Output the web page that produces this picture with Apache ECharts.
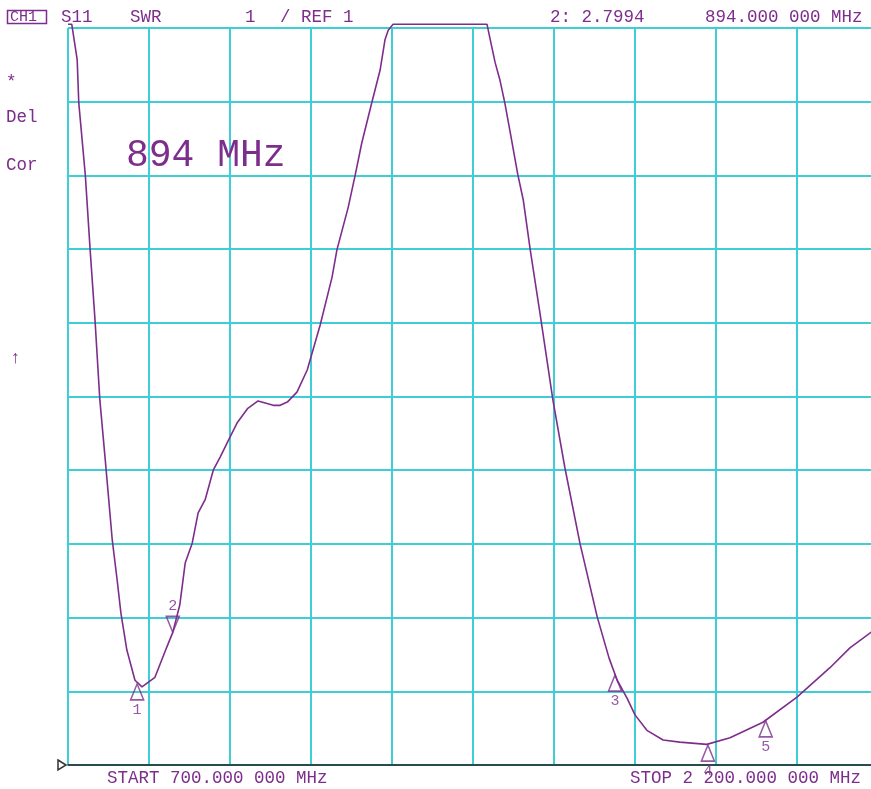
<!DOCTYPE html>
<html>
<head>
<meta charset="utf-8">
<script src="https://cdn.jsdelivr.net/npm/echarts@6/dist/echarts.min.js"></script>
<style>
html,body{margin:0;padding:0;background:#fff;}
#chart{width:871px;height:789px;}
</style>
</head>
<body>
<div id="chart"></div>
<script>
// Frequency (MHz) and SWR of the S11 trace
const freq = [700,707,717,720,732,741,750,759,769,782,791,798,809,824,837,861,883,894,907,917,930,941,954,969,982,1000,1013,1033,1052,1080,1093,1107,1124,1143,1167,1189,1198,1219,1232,1244,1263,1278,1287,1293,1302,1476,1482,1491,1500,1509,1519,1533,1543,1556,1574,1598,1620,1648,1680,1702,1717,1735,1750,1772,1802,1833,1883,1926,1987,2050,2111,2148,2187,2200];
const swr = [11.05,11.05,10.57,9.98,9.01,7.99,7.04,5.95,5.14,4.05,3.51,3.06,2.56,2.15,2.06,2.19,2.60,2.80,3.17,3.74,4.01,4.42,4.60,5.00,5.18,5.45,5.64,5.84,5.94,5.88,5.88,5.93,6.06,6.36,6.97,7.62,7.99,8.57,9.01,9.44,10.00,10.43,10.84,10.97,11.05,11.05,10.84,10.53,10.29,9.98,9.58,9.01,8.67,7.99,7.13,5.95,5.04,4.01,3.01,2.45,2.15,1.91,1.68,1.47,1.34,1.31,1.28,1.37,1.58,1.92,2.32,2.59,2.80,2.89];

// Markers
const markerFreq = [828, 894, 1713, 1885, 1992];
const markerSwr = [2.10, 2.80, 2.22, 1.27, 1.60];
const markerInverted = [false, true, false, false, false];

// Axis ranges
const freqStart = 700, freqStop = 2200;
const swrMin = 1, swrMax = 11, swrPerDiv = 1;
const xDivs = 10;

const purple = '#7d2e8c';
const cyan = '#3ecfd6';
const mono = '"Liberation Mono", "DejaVu Sans Mono", monospace';

const chart = echarts.init(document.getElementById('chart'), null, {renderer: 'canvas'});

const traceData = freq.map((f, i) => [f, swr[i]]);
const upPath = 'path://M0,14 L12,14 L6,0 Z';
const downPath = 'path://M0,0 L12,0 L6,14 Z';
const markerData = markerFreq.map((f, i) => ({
  value: [f, markerSwr[i]],
  symbol: markerInverted[i] ? downPath : upPath,
  symbolOffset: [0, markerInverted[i] ? '-50%' : '50%'],
  label: {position: markerInverted[i] ? 'top' : 'bottom', distance: 2}
}));

function txt(x, y, s, size, extra) {
  return Object.assign({
    type: 'text', x: x, y: y, z: 100,
    style: {text: s, font: size + 'px ' + mono, fill: purple, align: 'left', verticalAlign: 'middle'}
  }, extra || {});
}

const option = {
  backgroundColor: '#ffffff',
  animation: false,
  grid: {left: 68, top: 28, width: 810, height: 737, containLabel: false, outerBoundsMode: 'none'},
  xAxis: [
    {type: 'value', min: freqStart, max: freqStop, axisLabel: {show: false}, axisTick: {show: false},
     splitLine: {show: false}, axisLine: {show: true, lineStyle: {color: '#222', width: 1.5}}},
    {type: 'value', min: 0, max: xDivs, interval: 1, position: 'bottom', axisLabel: {show: false}, axisTick: {show: false},
     axisLine: {show: false}, splitLine: {show: true, lineStyle: {color: cyan, width: 2}}}
  ],
  yAxis: {type: 'value', min: swrMin, max: swrMax, interval: swrPerDiv, axisLabel: {show: false}, axisTick: {show: false},
    axisLine: {show: false}, splitLine: {show: true, lineStyle: {color: cyan, width: 2}}},
  series: [
    {type: 'line', xAxisIndex: 0, data: traceData, showSymbol: false, clip: false, smooth: false,
     lineStyle: {color: purple, width: 1.6}, z: 5},
    {type: 'scatter', xAxisIndex: 0, data: markerData, symbolSize: [13, 16], clip: false, z: 6,
     itemStyle: {color: 'rgba(0,0,0,0)', borderColor: purple, borderWidth: 1.6},
     label: {show: true, formatter: p => String(p.dataIndex + 1), color: purple, fontSize: 15, fontFamily: mono}}
  ],
  graphic: [
    {type: 'rect', shape: {x: 7.5, y: 10.5, width: 39, height: 13}, style: {fill: 'none', stroke: purple, lineWidth: 1.5}, z: 100},
    txt(10, 17, 'CH1', 15),
    txt(61, 17, 'S11', 17.5),
    txt(130, 17, 'SWR', 17.5),
    txt(245, 17, '1', 17.5),
    txt(280, 17, '/ REF 1', 17.5),
    txt(550, 17, '2: 2.7994', 17.5),
    txt(705, 17, '894.000 000 MHz', 17.5),
    txt(6, 82, '*', 17.5),
    txt(6, 117, 'Del', 17.5),
    txt(6, 165, 'Cor', 17.5),
    txt(10, 358, '↑', 17.5),
    txt(126, 156, '894 MHz', 38),
    txt(107, 778, 'START 700.000 000 MHz', 17.5),
    txt(630, 778, 'STOP 2 200.000 000 MHz', 17.5),
    {type: 'polygon', shape: {points: [[58, 760], [66, 765], [58, 770]]}, style: {fill: 'none', stroke: '#333', lineWidth: 1.5}, z: 100}
  ]
};
chart.setOption(option);
</script>
</body>
</html>
